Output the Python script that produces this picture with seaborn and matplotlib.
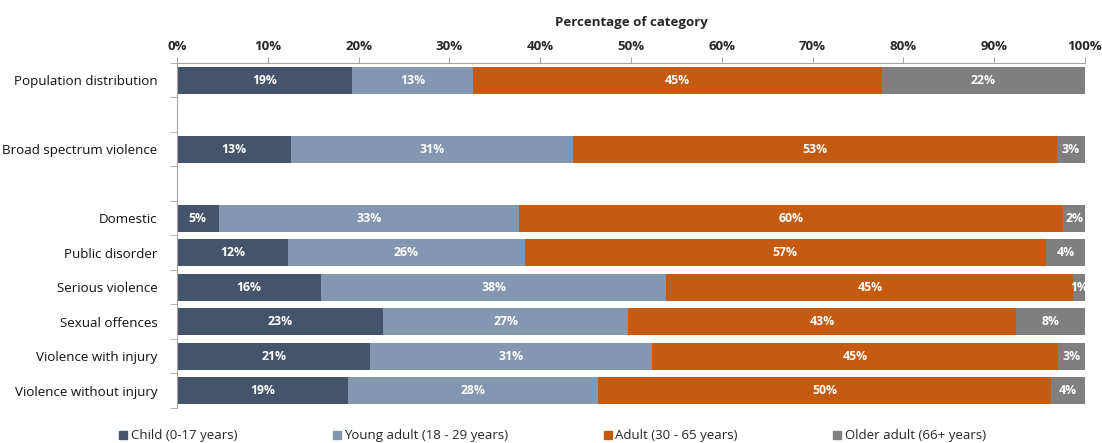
import matplotlib.pyplot as plt
import pandas as pd
import seaborn as sns
import numpy as np
from matplotlib.lines import Line2D

# shares of each age group (%)
categories = ['Population distribution', 'Broad spectrum violence', 'Domestic',
              'Public disorder', 'Serious violence', 'Sexual offences',
              'Violence with injury', 'Violence without injury']
child = [19.3, 12.6, 4.6, 12.2, 15.9, 22.7, 21.3, 18.8]
young = [13.3, 31.0, 33.1, 26.1, 38.0, 27.0, 31.0, 27.6]
adult = [45.0, 53.3, 59.9, 57.4, 44.8, 42.7, 44.7, 49.9]
older = [22.4, 3.1, 2.4, 4.3, 1.3, 7.6, 3.0, 3.7]

series_names = ['Child (0-17 years)', 'Young adult (18 - 29 years)',
                'Adult (30 - 65 years)', 'Older adult (66+ years)']
colors = ['#44546A', '#8497B0', '#C55A11', '#7F7F7F']

# empty slots give the gaps between the three blocks
order = ['Population distribution', ' ', 'Broad spectrum violence', '  ',
         'Domestic', 'Public disorder', 'Serious violence', 'Sexual offences',
         'Violence with injury', 'Violence without injury']

df = pd.DataFrame({'category': categories, 'child': child, 'young': young,
                   'adult': adult, 'older': older})
df['c1'] = df['child']
df['c2'] = df['c1'] + df['young']
df['c3'] = df['c2'] + df['adult']
df['c4'] = df['c3'] + df['older']

sns.set_style('white')
plt.rcParams['font.family'] = ['Open Sans', 'DejaVu Sans']

fig = plt.figure(figsize=(11.02, 4.43), dpi=100)
ax = fig.add_axes([0.1606, 0.079, 0.824, 0.7789])

# stacked bars: draw cumulative totals from the outside in
for col, c in zip(['c4', 'c3', 'c2', 'c1'], colors[::-1]):
    sns.barplot(data=df, x=col, y='category', order=order, orient='h',
                color=c, saturation=1, width=0.78, linewidth=0,
                errorbar=None, ax=ax)

# segment labels
for _, row in df.iterrows():
    y = order.index(row['category'])
    starts = [0, row['c1'], row['c2'], row['c3']]
    vals = [row['child'], row['young'], row['adult'], row['older']]
    for s, v in zip(starts, vals):
        ax.text(s + v / 2, y, f'{v:.0f}%', ha='center', va='center',
                color='white', fontsize=8.8, fontweight='bold')

ax.set_xlim(0, 100)
ax.set_ylim(9.5, -0.5)
ax.xaxis.tick_top()
ax.xaxis.set_label_position('top')
ax.set_xticks(range(0, 101, 10))
ax.set_xticklabels([f'{t}%' for t in range(0, 101, 10)], fontweight='bold', fontsize=9.5)
ax.set_xlabel('Percentage of category', fontweight='bold', fontsize=9.5, labelpad=10)
ax.tick_params(axis='x', length=4, color='#a6a6a6', pad=3)

ax.set_yticks(range(len(order)))
ax.set_yticklabels(order, fontsize=9.6, color='#111111')
ax.set_ylabel('')
ax.tick_params(axis='y', which='major', length=0, pad=14)
ax.set_yticks(np.arange(-0.5, len(order)), minor=True)
ax.tick_params(axis='y', which='minor', length=5, color='#a6a6a6', left=True)

for side in ['right', 'bottom']:
    ax.spines[side].set_visible(False)
for side in ['top', 'left']:
    ax.spines[side].set_color('#a6a6a6')
    ax.spines[side].set_linewidth(0.8)

handles = [Line2D([0], [0], marker='s', linestyle='', color=c, markersize=6)
           for c in colors]
fig.legend(handles, series_names, loc='lower left', bbox_to_anchor=(0.095, -0.025),
           ncol=4, frameon=False, fontsize=9.5, handletextpad=0.1,
           columnspacing=7.0, handlelength=1)

plt.savefig('out.png', dpi=100)
